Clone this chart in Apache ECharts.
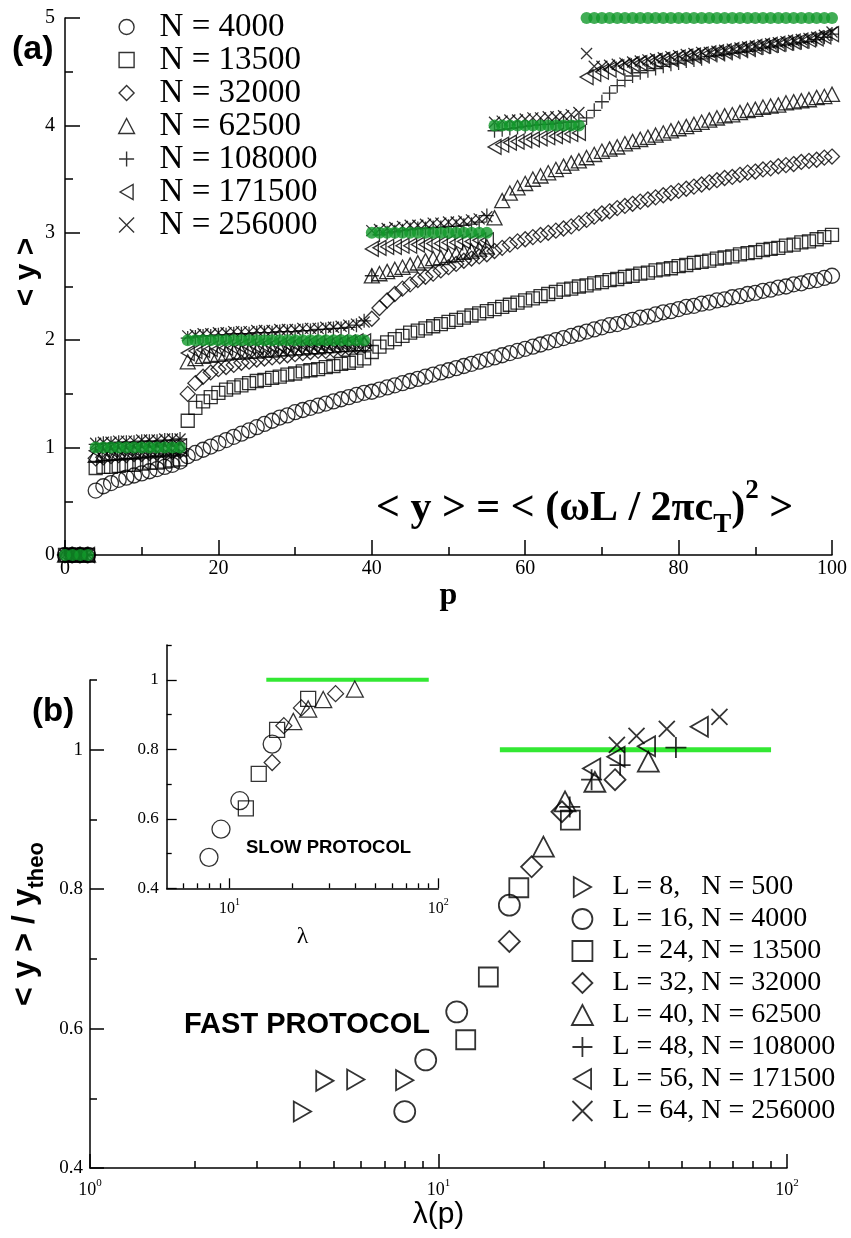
<!DOCTYPE html>
<html><head><meta charset="utf-8">
<script src="https://cdn.jsdelivr.net/npm/echarts@6/dist/echarts.min.js"></script>
<style>html,body{margin:0;padding:0;background:#fff}#c{width:851px;height:1238px}</style>
</head><body><div id="c"></div>
<script>
// ---------- panel (a) data ----------
const pValues = [0,1,2,3,4,5,6,7,8,9,10,11,12,13,14,15,16,17,18,19,20,21,22,23,24,25,26,27,28,29,30,31,32,33,34,35,36,37,38,39,40,41,42,43,44,45,46,47,48,49,50,51,52,53,54,55,56,57,58,59,60,61,62,63,64,65,66,67,68,69,70,71,72,73,74,75,76,77,78,79,80,81,82,83,84,85,86,87,88,89,90,91,92,93,94,95,96,97,98,99,100];
const yN4000 = [0,0,0,0,
0.60,0.64,0.67,0.70,0.72,0.74,0.76,0.78,0.80,0.82,0.84,0.87,
0.92,0.95,0.98,1.01,1.04,1.07,1.10,1.13,1.16,1.19,1.22,1.25,1.28,1.30,1.33,1.35,1.37,1.39,1.41,1.43,1.45,1.47,1.49,1.51,
1.52,1.54,1.56,1.58,1.60,1.62,1.64,1.66,1.68,1.70,1.72,1.74,1.76,1.78,1.80,1.82,
1.84,1.86,1.88,1.90,1.92,1.94,1.96,1.98,2.00,2.02,2.04,2.06,
2.08,2.10,2.12,2.14,2.15,2.17,2.19,2.21,2.22,2.24,2.26,2.27,2.29,2.31,2.32,2.34,2.35,2.37,2.38,2.40,2.41,2.43,2.44,2.46,2.47,2.49,2.50,2.52,2.53,2.55,2.56,2.58,2.60];
const yN13500 = [0,0,0,0,
0.81,0.82,0.82,0.83,0.84,0.84,0.85,0.86,0.86,0.87,0.88,0.89,
1.25,1.37,1.43,1.47,1.51,1.54,1.56,1.58,1.60,1.62,1.63,1.65,1.66,1.68,1.69,1.71,1.72,1.73,1.75,1.76,1.78,1.79,1.81,1.83,
1.89,1.94,1.98,2.01,2.04,2.07,2.09,2.11,2.13,2.15,2.17,2.19,2.21,2.23,2.25,2.27,
2.29,2.31,2.33,2.35,2.37,2.39,2.41,2.43,2.45,2.47,2.48,2.50,
2.51,2.53,2.54,2.56,2.57,2.59,2.60,2.62,2.63,2.65,2.66,2.67,2.69,2.70,2.72,2.73,2.74,2.76,2.77,2.78,2.80,2.81,2.82,2.84,2.85,2.86,2.88,2.89,2.91,2.92,2.94,2.96,2.98];
const yN32000 = [0,0,0,0,
0.90,0.91,0.92,0.93,0.93,0.94,0.94,0.95,0.95,0.96,0.96,0.97,
1.50,1.60,1.66,1.70,1.73,1.75,1.77,1.79,1.80,1.82,1.83,1.84,1.85,1.86,1.87,1.88,1.89,1.90,1.90,1.91,1.92,1.93,1.94,1.95,
2.20,2.30,2.37,2.43,2.48,2.52,2.56,2.59,2.62,2.65,2.68,2.71,2.74,2.76,2.78,2.80,
2.83,2.86,2.89,2.92,2.94,2.96,2.98,3.00,3.02,3.04,3.06,3.09,
3.12,3.15,3.18,3.20,3.23,3.25,3.27,3.29,3.31,3.33,3.35,3.37,3.39,3.41,3.43,3.45,3.47,3.49,3.51,3.52,3.54,3.56,3.57,3.59,3.60,3.62,3.63,3.64,3.66,3.67,3.68,3.70,3.71];
const yN62500 = [0,0,0,0,
0.93,0.94,0.95,0.95,0.96,0.96,0.97,0.97,0.98,0.98,0.99,0.99,
1.80,1.83,1.85,1.86,1.87,1.88,1.89,1.89,1.90,1.90,1.91,1.91,1.92,1.92,1.93,1.93,1.94,1.94,1.95,1.95,1.96,1.96,1.97,1.97,
2.60,2.62,2.64,2.66,2.68,2.70,2.72,2.74,2.76,2.77,2.79,2.80,2.82,2.83,2.85,2.87,
3.14,3.30,3.37,3.42,3.46,3.50,3.53,3.56,3.59,3.62,3.65,3.67,
3.70,3.73,3.76,3.78,3.80,3.83,3.85,3.87,3.89,3.91,3.93,3.95,3.97,3.99,4.01,4.03,4.05,4.07,4.09,4.10,4.12,4.14,4.15,4.17,4.18,4.19,4.21,4.22,4.23,4.24,4.26,4.27,4.29];
const yN108000 = [0,0,0,0,
1.03,1.04,1.04,1.05,1.05,1.05,1.06,1.06,1.06,1.07,1.07,1.08,
2.02,2.03,2.04,2.04,2.05,2.05,2.06,2.06,2.06,2.07,2.07,2.07,2.08,2.08,2.08,2.09,2.09,2.10,2.10,2.11,2.11,2.12,2.14,2.18,
2.60,2.98,3.00,3.01,3.02,3.03,3.04,3.04,3.05,3.05,3.06,3.06,3.07,3.08,3.10,3.16,
3.95,3.96,3.97,3.98,3.99,4.00,4.01,4.01,4.02,4.03,4.03,4.04,
4.07,4.14,4.22,4.30,4.37,4.42,4.46,4.49,4.51,4.53,4.55,4.57,4.58,4.60,4.61,4.62,4.64,4.65,4.66,4.67,4.68,4.69,4.70,4.72,4.73,4.74,4.75,4.76,4.77,4.78,4.80,4.82,4.85];
const yN171500 = [0,0,0,0,
0.97,0.98,0.98,0.99,0.99,0.99,1.00,1.00,1.00,1.01,1.01,1.01,
1.88,1.90,1.91,1.92,1.92,1.93,1.93,1.94,1.94,1.94,1.95,1.95,1.95,1.96,1.96,1.96,1.97,1.97,1.97,1.98,1.98,1.98,1.99,1.99,
2.85,2.86,2.87,2.87,2.88,2.88,2.89,2.89,2.90,2.90,2.91,2.91,2.92,2.92,2.93,2.93,
3.80,3.82,3.84,3.85,3.86,3.87,3.88,3.89,3.90,3.91,3.92,3.93,
4.45,4.48,4.50,4.52,4.54,4.55,4.57,4.58,4.59,4.60,4.61,4.62,4.63,4.64,4.65,4.66,4.67,4.68,4.69,4.70,4.71,4.72,4.73,4.74,4.75,4.76,4.77,4.78,4.79,4.80,4.81,4.83,4.85];
const yN256000 = [0,0,0,0,
1.04,1.05,1.05,1.06,1.06,1.06,1.07,1.07,1.07,1.08,1.08,1.08,
2.04,2.05,2.06,2.06,2.07,2.07,2.08,2.08,2.08,2.09,2.09,2.09,2.10,2.10,2.10,2.11,2.11,2.11,2.12,2.12,2.13,2.14,2.15,2.17,
3.02,3.03,3.04,3.05,3.06,3.07,3.07,3.08,3.09,3.09,3.10,3.10,3.11,3.12,3.13,3.15,
4.03,4.04,4.05,4.05,4.06,4.07,4.07,4.08,4.08,4.09,4.10,4.12,
4.67,4.55,4.55,4.56,4.57,4.58,4.59,4.60,4.61,4.62,4.63,4.64,4.65,4.66,4.67,4.68,4.68,4.69,4.70,4.71,4.72,4.73,4.74,4.75,4.76,4.77,4.78,4.79,4.80,4.81,4.82,4.84,4.87];
const theoryY = [0,0,0,0,
1,1,1,1,1,1,1,1,1,1,1,1,
2,2,2,2,2,2,2,2,2,2,2,2,2,2,2,2,2,2,2,2,2,2,2,2,
3,3,3,3,3,3,3,3,3,3,3,3,3,3,3,3,
4,4,4,4,4,4,4,4,4,4,4,4,
5,5,5,5,5,5,5,5,5,5,5,5,5,5,5,5,5,5,5,5,5,5,5,5,5,5,5,5,5,5,5,5,5];
const namesTop = ['N = 4000','N = 13500','N = 32000','N = 62500','N = 108000','N = 171500','N = 256000'];
const topTicksX = [0,20,40,60,80,100];
const topTicksY = [0,1,2,3,4,5];

// ---------- panel (b) data ----------
const namesBot = ['L = 8,   N = 500','L = 16, N = 4000','L = 24, N = 13500','L = 32, N = 32000','L = 40, N = 62500','L = 48, N = 108000','L = 56, N = 171500','L = 64, N = 256000'];
const lamL8 = [4.07,4.72,5.79,8.0],      valL8 = [0.481,0.525,0.527,0.526];
const lamL16 = [8.0,9.19,11.28,15.97],   valL16 = [0.481,0.555,0.624,0.777];
const lamL24 = [11.97,13.9,17.0,23.9],   valL24 = [0.584,0.674,0.802,0.899];
const lamL32 = [15.97,18.5,22.6,32.1],   valL32 = [0.725,0.832,0.911,0.957];
const lamL40 = [20.0,23.07,28.1,40.0],   valL40 = [0.861,0.926,0.954,0.983];
const lamL48 = [23.8,27.5,33.2,48.0],    valL48 = [0.918,0.957,0.978,1.003];
const lamL56 = [27.5,32.3,39.5,56.0],    valL56 = [0.973,0.990,1.005,1.033];
const lamL64 = [32.5,37.0,45.2,64.0],    valL64 = [1.007,1.020,1.030,1.047];
const greenLam = [15, 90], greenVal = [1, 1];
// inset (slow protocol)
const inLamL16 = [7.97,9.1,11.2,16.0],   inValL16 = [0.489,0.570,0.652,0.815];
const inLamL24 = [11.97,13.8,16.9,23.8], inValL24 = [0.630,0.729,0.856,0.945];
const inLamL32 = [16.0,18.2,22.1,32.2],  inValL32 = [0.762,0.868,0.919,0.960];
const inLamL40 = [20.2,23.8,28.1,39.8],  inValL40 = [0.880,0.916,0.943,0.973];
const logMajor = [1,10,100], logMinor = [2,3,4,5,6,7,8,9,20,30,40,50,60,70,80,90];
const inLogMajor = [10,100], inLogMinor = [6,7,8,9,20,30,40,50,60,70,80,90];
const bYMajor = [0.4,0.6,0.8,1], bYMinor = [0.5,0.7,0.9,1.1];

// ---------- styling ----------
const serif = '"Liberation Serif","Times New Roman",serif';
const sans = '"Liberation Sans",Arial,sans-serif';
const SYM = {
  circle:'circle',
  rect:'path://M0,0L10,0L10,10L0,10Z',
  diamond:'path://M5,0L10,5L5,10L0,5Z',
  triangle:'path://M5,0L10,9.5L0,9.5Z',
  plus:'path://M5,0L5,10M0,5L10,5',
  left:'path://M8.66,0L8.66,10L0,5Z',
  right:'path://M0,0L0,10L8.66,5Z',
  cross:'path://M0,0L10,10M10,0L0,10'
};
const open = (bw) => ({color:'rgba(0,0,0,0)', borderColor:'#000', borderWidth:bw});

function topSeries(name, ys, sym, size) {
  return {type:'scatter', name, xAxisIndex:0, yAxisIndex:0, symbol:sym, symbolSize:size, symbolKeepAspect:true,
    data: pValues.map((p,i)=>[p, ys[i]]), itemStyle: open(1.3), silent:true, animation:false};
}
function botSeries(name, lam, val, sym, size, ax, bw) {
  return {type:'scatter', name, xAxisIndex:ax, yAxisIndex:ax, symbol:sym, symbolSize:size, symbolKeepAspect:true,
    data: lam.map((l,i)=>[l, val[i]]), itemStyle: open(bw), silent:true, animation:false, z:3};
}
function greenLine(ax, w) {
  return {type:'line', xAxisIndex:ax, yAxisIndex:ax, data: greenLam.map((l,i)=>[l, greenVal[i]]),
    symbol:'none', lineStyle:{color:'#33e833', width:w}, silent:true, animation:false, z:2};
}
const axLine = {show:true, lineStyle:{color:'#000', width:1.5}};
function logFmt(v){ return '{b|10}{s|' + Math.round(Math.log10(v)) + '}'; }

const series = [
  topSeries(namesTop[0], yN4000, SYM.circle, 15),
  topSeries(namesTop[1], yN13500, SYM.rect, 13),
  topSeries(namesTop[2], yN32000, SYM.diamond, 15),
  topSeries(namesTop[3], yN62500, SYM.triangle, 15),
  topSeries(namesTop[4], yN108000, SYM.plus, 14),
  topSeries(namesTop[5], yN171500, SYM.left, 15),
  topSeries(namesTop[6], yN256000, SYM.cross, 11),
  {type:'scatter', name:'theory', xAxisIndex:0, yAxisIndex:0, symbol:'circle', symbolSize:12,
   data: pValues.map((p,i)=>[p, theoryY[i]]), itemStyle:{color:'#12992a'}, silent:true, animation:false, z:4},
  greenLine(1, 5),
  botSeries(namesBot[0], lamL8, valL8, SYM.right, 20, 1, 1.8),
  botSeries(namesBot[1], lamL16, valL16, SYM.circle, 21, 1, 1.8),
  botSeries(namesBot[2], lamL24, valL24, SYM.rect, 19, 1, 1.8),
  botSeries(namesBot[3], lamL32, valL32, SYM.diamond, 21, 1, 1.8),
  botSeries(namesBot[4], lamL40, valL40, SYM.triangle, 21, 1, 1.8),
  botSeries(namesBot[5], lamL48, valL48, SYM.plus, 21, 1, 1.8),
  botSeries(namesBot[6], lamL56, valL56, SYM.left, 20, 1, 1.8),
  botSeries(namesBot[7], lamL64, valL64, SYM.cross, 16, 1, 1.8),
  greenLine(3, 4),
  botSeries(namesBot[1], inLamL16, inValL16, SYM.circle, 18, 3, 1.3),
  botSeries(namesBot[2], inLamL24, inValL24, SYM.rect, 15, 3, 1.3),
  botSeries(namesBot[3], inLamL32, inValL32, SYM.diamond, 16, 3, 1.3),
  botSeries(namesBot[4], inLamL40, inValL40, SYM.triangle, 17, 3, 1.3)
];

const option = {
  backgroundColor:'#fff',
  animation:false,
  grid:[
    {left:65, top:18, width:767, height:537},
    {left:90, top:680, width:697, height:488},
    {left:166.7, top:645, width:271.6, height:243.3}
  ],
  xAxis:[
    {type:'value', gridIndex:0, min:0, max:100, interval:20, axisLine:axLine,
     axisTick:{inside:true, length:15, lineStyle:{color:'#000', width:1.5}},
     minorTick:{show:true, splitNumber:2, length:8, lineStyle:{color:'#000', width:1.5}},
     splitLine:{show:false},
     axisLabel:{color:'#000', fontFamily:serif, fontSize:20, margin:4, customValues:topTicksX},
     name:'p', nameLocation:'middle', nameGap:16,
     nameTextStyle:{color:'#000', fontFamily:serif, fontWeight:'bold', fontSize:32, verticalAlign:'top'}},
    {type:'log', gridIndex:1, logBase:10, min:1, max:100, position:'bottom', axisLine:axLine,
     axisTick:{inside:true, length:14, lineStyle:{color:'#000', width:1.5}, customValues:logMajor},
     splitLine:{show:false}, minorTick:{show:false},
     axisLabel:{color:'#000', margin:10, customValues:logMajor, formatter:logFmt,
       rich:{b:{fontFamily:serif, fontSize:18, verticalAlign:'bottom'}, s:{fontFamily:serif, fontSize:11, verticalAlign:'bottom', padding:[0,0,10,0]}}},
     name:'λ(p)', nameLocation:'middle', nameGap:32,
     nameTextStyle:{color:'#000', fontFamily:sans, fontSize:30, verticalAlign:'top'}},
    {type:'log', gridIndex:1, logBase:10, min:1, max:100, position:'bottom', axisLine:{show:false},
     axisTick:{inside:true, length:7, lineStyle:{color:'#000', width:1.5}, customValues:logMinor},
     axisLabel:{show:false}, splitLine:{show:false}},
    {type:'log', gridIndex:2, logBase:10, min:5, max:100, position:'bottom', axisLine:axLine,
     axisTick:{inside:true, length:10, lineStyle:{color:'#000', width:1.3}, customValues:inLogMajor},
     splitLine:{show:false},
     axisLabel:{color:'#000', margin:9, customValues:inLogMajor, formatter:logFmt,
       rich:{b:{fontFamily:serif, fontSize:16, verticalAlign:'bottom'}, s:{fontFamily:serif, fontSize:10, verticalAlign:'bottom', padding:[0,0,9,0]}}},
     name:'λ', nameLocation:'middle', nameGap:36,
     nameTextStyle:{color:'#000', fontFamily:serif, fontSize:24, verticalAlign:'top'}},
    {type:'log', gridIndex:2, logBase:10, min:5, max:100, position:'bottom', axisLine:{show:false},
     axisTick:{inside:true, length:5, lineStyle:{color:'#000', width:1.3}, customValues:inLogMinor},
     axisLabel:{show:false}, splitLine:{show:false}}
  ],
  yAxis:[
    {type:'value', gridIndex:0, min:0, max:5, interval:1, axisLine:axLine,
     axisTick:{inside:true, length:15, lineStyle:{color:'#000', width:1.5}},
     minorTick:{show:true, splitNumber:2, length:8, lineStyle:{color:'#000', width:1.5}},
     splitLine:{show:false},
     axisLabel:{color:'#000', fontFamily:serif, fontSize:20, margin:10, customValues:topTicksY}},
    {type:'value', gridIndex:1, min:0.4, max:1.1, position:'left', axisLine:axLine,
     axisTick:{inside:true, length:14, lineStyle:{color:'#000', width:1.5}, customValues:bYMajor},
     splitLine:{show:false},
     axisLabel:{color:'#000', fontFamily:serif, fontSize:19, margin:7, customValues:bYMajor},
     name:'{m|< y > / y}{s|theo}', nameLocation:'middle', nameGap:28, nameRotate:90,
     nameTextStyle:{color:'#000', rich:{
       m:{fontFamily:sans, fontWeight:'bold', fontSize:32, verticalAlign:'bottom', padding:[0,0,7,0]},
       s:{fontFamily:sans, fontWeight:'bold', fontSize:22, verticalAlign:'bottom'}}}},
    {type:'value', gridIndex:1, min:0.4, max:1.1, position:'left', axisLine:{show:false},
     axisTick:{inside:true, length:7, lineStyle:{color:'#000', width:1.5}, customValues:bYMinor},
     axisLabel:{show:false}, splitLine:{show:false}},
    {type:'value', gridIndex:2, min:0.4, max:1.1, position:'left', axisLine:axLine,
     axisTick:{inside:true, length:10, lineStyle:{color:'#000', width:1.3}, customValues:bYMajor},
     splitLine:{show:false},
     axisLabel:{color:'#000', fontFamily:serif, fontSize:17, margin:8, customValues:bYMajor}},
    {type:'value', gridIndex:2, min:0.4, max:1.1, position:'left', axisLine:{show:false},
     axisTick:{inside:true, length:5, lineStyle:{color:'#000', width:1.3}, customValues:bYMinor},
     axisLabel:{show:false}, splitLine:{show:false}}
  ],
  legend:[
    {data:namesTop, orient:'vertical', left:118, top:10.5, itemWidth:56, itemHeight:15, itemGap:0, padding:0,
     selectedMode:false, itemStyle:open(1.4), symbolKeepAspect:true,
     textStyle:{color:'#000', fontFamily:serif, fontSize:33, lineHeight:29, padding:0}},
    {data:namesBot, orient:'vertical', left:571, top:871, itemWidth:50, itemHeight:20, itemGap:0, padding:0,
     selectedMode:false, itemStyle:open(1.8), symbolKeepAspect:true,
     textStyle:{color:'#000', fontFamily:serif, fontSize:28, lineHeight:32, padding:0}}
  ],
  graphic:[
    {type:'text', x:12, y:50, silent:true, style:{text:'(a)', fill:'#000', font:'bold 34px ' + sans, align:'left', verticalAlign:'middle', textAlign:'left', textVerticalAlign:'middle'}},
    {type:'text', x:27, y:272, rotation:Math.PI/2, silent:true, style:{text:'< y >', fill:'#000', font:'bold 30px ' + sans, align:'center', verticalAlign:'middle', textAlign:'center', textVerticalAlign:'middle'}},
    {type:'text', x:32, y:712, silent:true, style:{text:'(b)', fill:'#000', font:'bold 33px ' + sans, align:'left', verticalAlign:'middle', textAlign:'left', textVerticalAlign:'middle'}},
    {type:'text', x:184, y:1025, silent:true, style:{text:'FAST PROTOCOL', fill:'#000', font:'bold 29px ' + sans, align:'left', verticalAlign:'middle', textAlign:'left', textVerticalAlign:'middle'}},
    {type:'text', x:246, y:848, silent:true, style:{text:'SLOW PROTOCOL', fill:'#000', font:'bold 18.5px ' + sans, align:'left', verticalAlign:'middle', textAlign:'left', textVerticalAlign:'middle'}},
    {type:'text', x:376, y:508, silent:true, style:{
      text:'{a|< y > = < (ωL / 2πc}{sub|T}{a|)}{sup|2}{a| >}', fill:'#000',
      align:'left', verticalAlign:'middle', textAlign:'left', textVerticalAlign:'middle',
      rich:{
        a:{fontFamily:serif, fontWeight:'bold', fontSize:42, fill:'#000', verticalAlign:'bottom', padding:[0,0,8,0]},
        sub:{fontFamily:serif, fontWeight:'bold', fontSize:27, fill:'#000', verticalAlign:'bottom'},
        sup:{fontFamily:serif, fontWeight:'bold', fontSize:27, fill:'#000', verticalAlign:'bottom', padding:[0,0,34,0]}
      }}}
  ],
  series
};
const chart = echarts.init(document.getElementById('c'), null, {renderer:'canvas'});
chart.setOption(option);
</script></body></html>
